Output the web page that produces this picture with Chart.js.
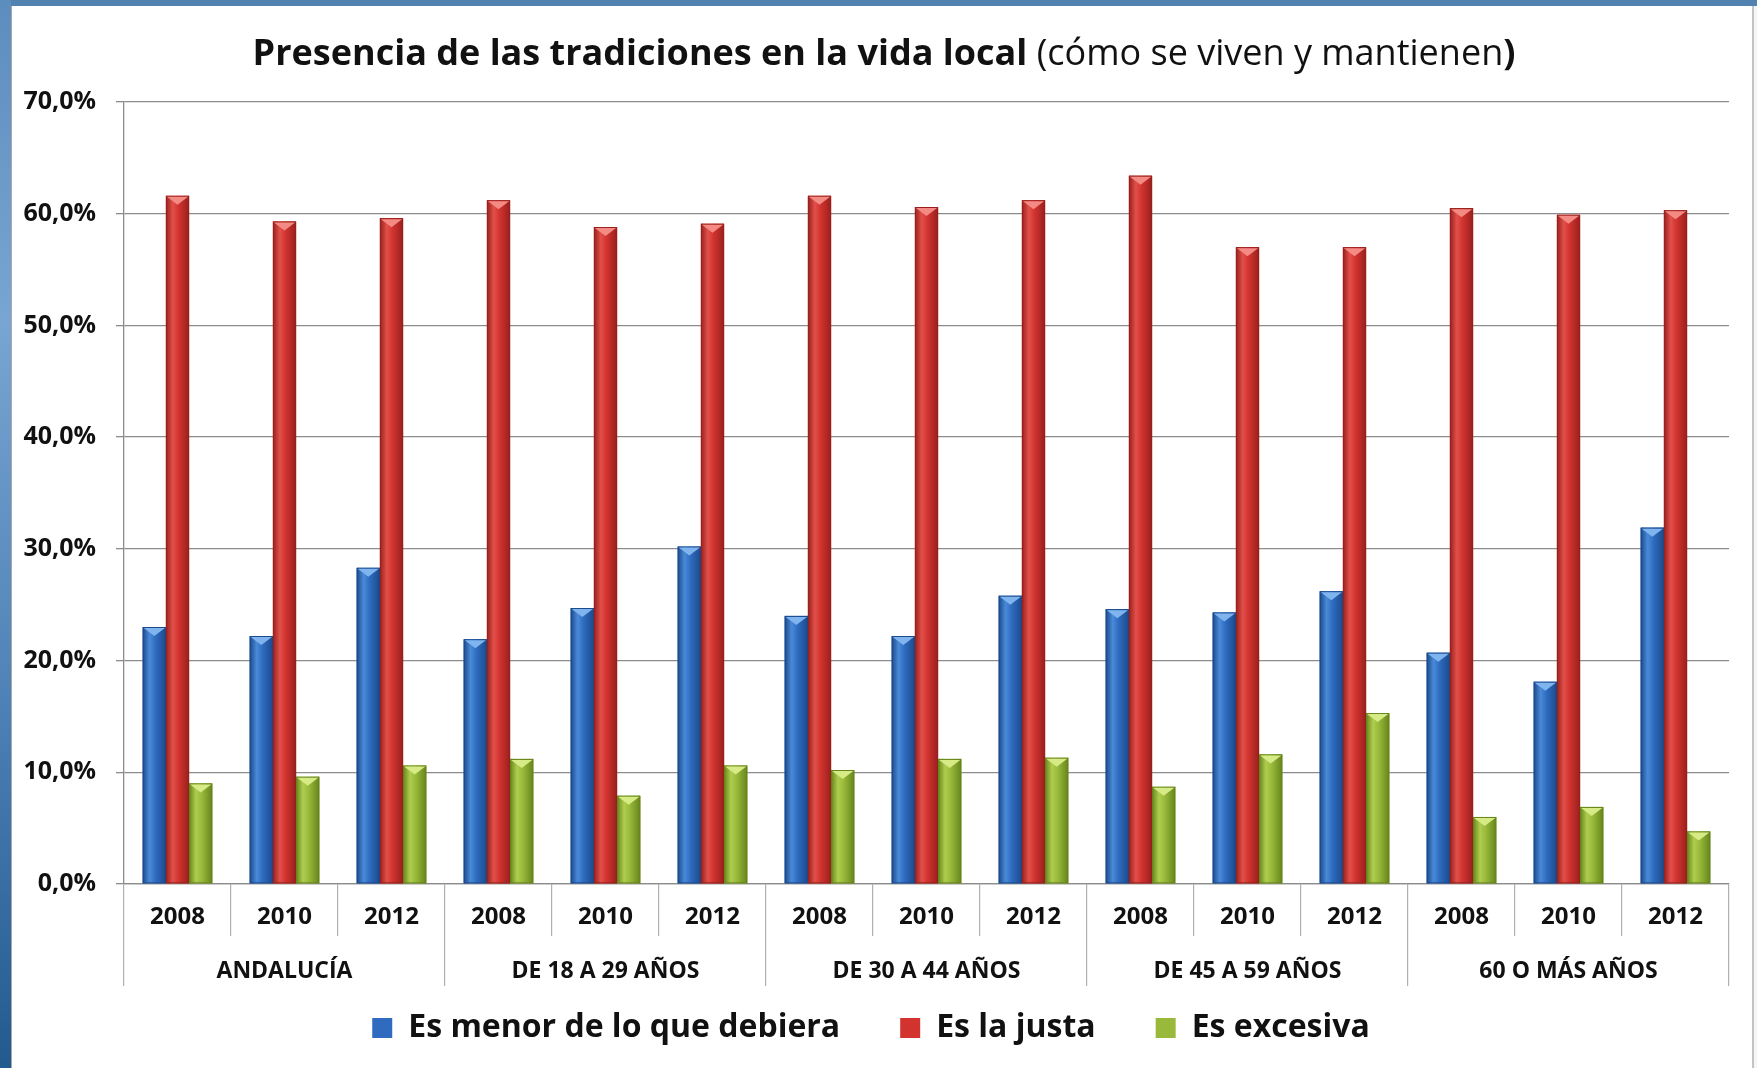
<!DOCTYPE html>
<html lang="es">
<head>
<meta charset="utf-8">
<title>Presencia de las tradiciones en la vida local</title>
<script src="https://cdn.jsdelivr.net/npm/chart.js@4.4.1/dist/chart.umd.min.js"></script>
<style>
html, body { margin: 0; padding: 0; }
body { width: 1757px; height: 1068px; overflow: hidden; position: relative; background: #f4f6f8; }
#topband { position: absolute; left: 0; top: 0; width: 1757px; height: 6px; background: #5282b2; }
#leftband { position: absolute; left: 0; top: 0; width: 11px; height: 1068px;
  background: linear-gradient(to bottom, #5d8dbe 0%, #78a5d2 30%, #4f82b6 65%, #225a90 100%); }
#panel { position: absolute; left: 11px; top: 6px; width: 1743px; height: 1062px; background: #fff;
  border-left: 1px solid #a8a8a8; border-right: 2px solid #c4c4c4; box-sizing: border-box; }
#wrap { position: absolute; left: 1px; top: 1px; width: 1742px; height: 1061px; }
</style>
</head>
<body>
<div id="topband"></div>
<div id="leftband"></div>
<div id="panel"><div id="wrap"><canvas id="grafico"></canvas></div></div>
<script>
document.addEventListener("DOMContentLoaded", () => {

// Datos
const grupos = ["ANDALUCÍA", "DE 18 A 29 AÑOS", "DE 30 A 44 AÑOS", "DE 45 A 59 AÑOS", "60 O MÁS AÑOS"];
const anios = ["2008", "2010", "2012"];
const etiquetas = [];
grupos.forEach(() => anios.forEach(a => etiquetas.push(a)));

const menor    = [23.0, 22.2, 28.3,  21.9, 24.7, 30.2,  24.0, 22.2, 25.8,  24.6, 24.3, 26.2,  20.7, 18.1, 31.9];
const justa    = [61.6, 59.3, 59.6,  61.2, 58.8, 59.1,  61.6, 60.6, 61.2,  63.4, 57.0, 57.0,  60.5, 59.9, 60.3];
const excesiva = [ 9.0,  9.6, 10.6,  11.2,  7.9, 10.6,  10.2, 11.2, 11.3,   8.7, 11.6, 15.3,   6.0,  6.9,  4.7];

const seriesNombres = ["Es menor de lo que debiera", "Es la justa", "Es excesiva"];
const ticksY = [0, 10, 20, 30, 40, 50, 60, 70];

const tituloNegrita = "Presencia de las tradiciones en la vida local";
const tituloNormal = " (cómo se viven y mantienen";
const tituloCierre = ")";

const fuente = '"Open Sans", "Noto Sans", sans-serif';
const textoColor = "#111111";

// tonos para simular el relieve de las barras
const tonos = [
  { base: "#2f6cc0", dark: "#1b4a8c", light: "#4a8ad8", cap: "#7fb4ee" },
  { base: "#d2332f", dark: "#98201d", light: "#e2504a", cap: "#f38a84" },
  { base: "#98b93a", dark: "#66851c", light: "#afcd4e", cap: "#d6ea86" }
];

const relieve = {
  id: "relieve",
  afterDatasetsDraw(chart) {
    const ctx = chart.ctx;
    ctx.save();
    chart.data.datasets.forEach((ds, i) => {
      const meta = chart.getDatasetMeta(i);
      const t = tonos[i];
      meta.data.forEach(bar => {
        const { x, y, base, width } = bar.getProps(["x", "y", "base", "width"], true);
        const left = x - width / 2;
        const g = ctx.createLinearGradient(left, 0, left + width, 0);
        g.addColorStop(0, t.dark);
        g.addColorStop(0.3, t.light);
        g.addColorStop(0.55, t.base);
        g.addColorStop(1, t.dark);
        ctx.fillStyle = g;
        ctx.fillRect(left, y, width, base - y);
        ctx.strokeStyle = t.dark;
        ctx.lineWidth = 1;
        ctx.strokeRect(left + 0.5, y + 0.5, width - 1, base - y - 1);
        // tapa superior
        ctx.beginPath();
        ctx.moveTo(left + 1, y + 1);
        ctx.lineTo(left + width - 1, y + 1);
        ctx.lineTo(x, y + 9);
        ctx.closePath();
        ctx.fillStyle = t.cap;
        ctx.fill();
      });
    });
    ctx.restore();
  }
};

// sube la leyenda para que quede más cerca del eje
const leyendaArriba = {
  id: "leyendaArriba",
  afterLayout(chart) {
    chart.legend.top -= 34;
    chart.legend.bottom -= 34;
  }
};

const tituloMixto = {
  id: "tituloMixto",
  afterDraw(chart) {
    const ctx = chart.ctx;
    const partes = [
      { txt: tituloNegrita, font: "bold 36px " + fuente },
      { txt: tituloNormal, font: "36px " + fuente },
      { txt: tituloCierre, font: "bold 36px " + fuente }
    ];
    ctx.save();
    let total = 0;
    partes.forEach(p => { ctx.font = p.font; p.w = ctx.measureText(p.txt).width; total += p.w; });
    let x = chart.width / 2 - total / 2;
    ctx.fillStyle = textoColor;
    ctx.textAlign = "left";
    ctx.textBaseline = "alphabetic";
    partes.forEach(p => { ctx.font = p.font; ctx.fillText(p.txt, x, 58); x += p.w; });
    ctx.restore();
  }
};

new Chart(document.getElementById("grafico").getContext("2d"), {
  type: "bar",
  data: {
    labels: etiquetas,
    datasets: [
      { label: seriesNombres[0], data: menor, backgroundColor: tonos[0].base, borderWidth: 0 },
      { label: seriesNombres[1], data: justa, backgroundColor: tonos[1].base, borderWidth: 0 },
      { label: seriesNombres[2], data: excesiva, backgroundColor: tonos[2].base, borderWidth: 0 }
    ]
  },
  options: {
    responsive: true,
    maintainAspectRatio: false,
    animation: false,
    datasets: { bar: { categoryPercentage: 0.65, barPercentage: 1.0 } },
    layout: { padding: { top: 95, right: 26, left: 0, bottom: -20 } },
    plugins: {
      title: { display: false },
      tooltip: { enabled: false },
      legend: {
        position: "bottom",
        labels: {
          boxWidth: 20,
          boxHeight: 20,
          padding: 60,
          color: textoColor,
          font: { family: fuente, size: 32, weight: "bold" }
        }
      }
    },
    scales: {
      y: {
        min: 0,
        max: 70,
        afterBuildTicks: s => { s.ticks = ticksY.map(v => ({ value: v })); },
        afterFit: s => { s.width = 111; },
        ticks: {
          padding: 20,
          color: textoColor,
          font: { family: fuente, size: 25, weight: "bold" },
          callback: v => v.toFixed(1).replace(".", ",") + "%"
        },
        grid: { color: "#8c8c8c", lineWidth: 1.3, tickLength: 8, tickColor: "#8c8c8c" },
        border: { display: true, color: "#8c8c8c", width: 1.3 }
      },
      x: {
        weight: 0,
        afterFit: s => { s.height = 52; },
        ticks: {
          padding: -33,
          autoSkip: false,
          maxRotation: 0,
          color: textoColor,
          font: { family: fuente, size: 24, weight: "bold" }
        },
        grid: { offset: true, drawOnChartArea: false, tickLength: 52, color: "#b0b0b0", lineWidth: 1.2 },
        border: { display: true, color: "#8c8c8c", width: 1.3 }
      },
      x2: {
        type: "category",
        labels: grupos,
        position: "bottom",
        weight: 1,
        offset: true,
        afterFit: s => { s.height = 50; },
        ticks: {
          padding: -28,
          autoSkip: false,
          maxRotation: 0,
          color: textoColor,
          font: { family: fuente, size: 23, weight: "bold" }
        },
        grid: { offset: true, drawOnChartArea: false, tickLength: 50, color: "#b0b0b0", lineWidth: 1.2 },
        border: { display: false }
      }
    }
  },
  plugins: [relieve, leyendaArriba, tituloMixto]
});

});
</script>
</body>
</html>
